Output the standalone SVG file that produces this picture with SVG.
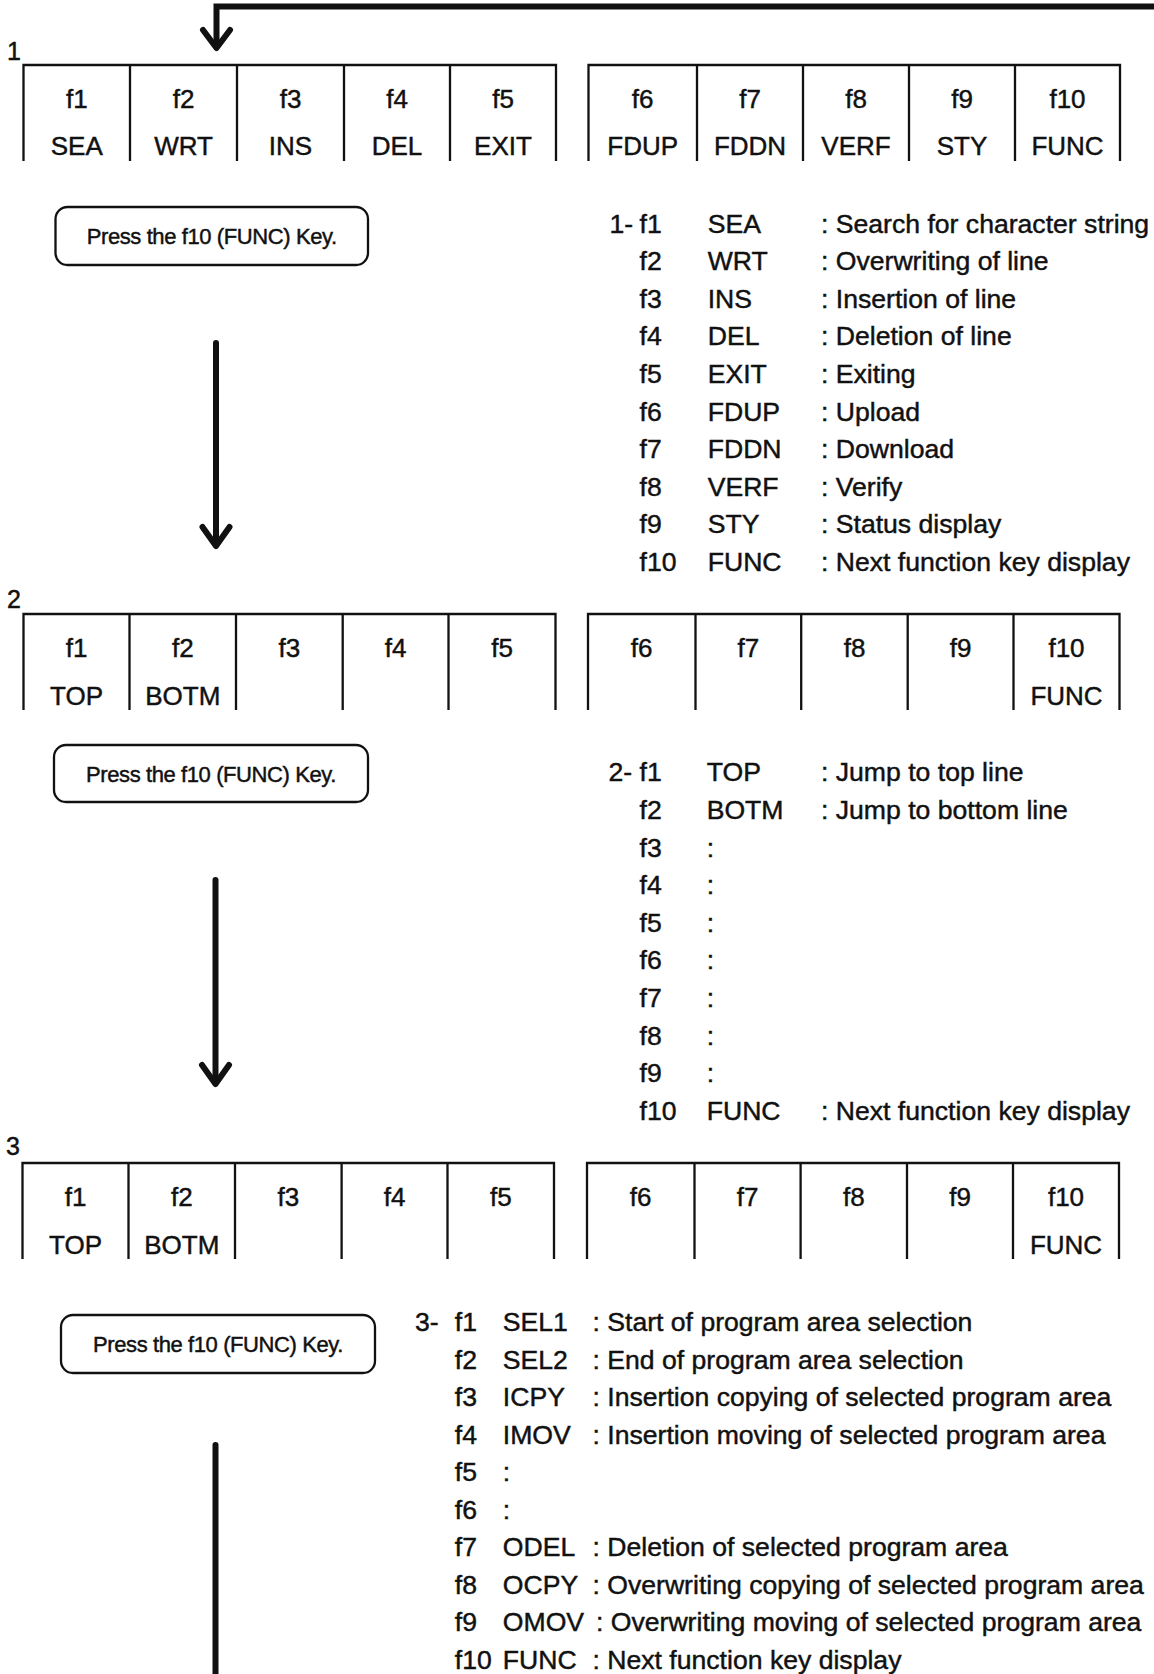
<svg xmlns="http://www.w3.org/2000/svg" width="1154" height="1674" viewBox="0 0 1154 1674">
<style>
text{font-family:"Liberation Sans",Arial,sans-serif;fill:#111;stroke:#111;stroke-width:0.45}
.k{font-size:26px;text-anchor:middle}
.n{font-size:25px}
.l{font-size:26.6px}
.p{font-size:22px;text-anchor:middle;letter-spacing:-0.4px}
.box{fill:none;stroke:#111;stroke-width:2.3}
.pb{fill:none;stroke:#111;stroke-width:2.3}
.ar{fill:none;stroke:#111;stroke-width:6;stroke-linecap:round;stroke-linejoin:round}
</style>
<rect width="1154" height="1674" fill="#fff"/>

<g id="connectors">
<path class="ar" d="M1160 6.5 H216.5 V47" style="stroke-linecap:butt;stroke-linejoin:miter"/>
<path class="ar" d="M203 30 L216.5 48 L230 30"/>
<path class="ar" d="M216 343 V545"/>
<path class="ar" d="M202.5 527 L216 546 L229.5 527"/>
<path class="ar" d="M215.5 880 V1083"/>
<path class="ar" d="M202 1065 L215.5 1084 L229 1065"/>
<path class="ar" d="M215.5 1445 V1680"/>
</g>

<!-- Row 1 -->
<g id="row1-label"><text class="n" x="7" y="60">1</text></g>
<g id="row1-left">
<path class="box" d="M23.5 161 V65 H556 V161 M130 65 V161 M237 65 V161 M344 65 V161 M450 65 V161"/>
<text class="k" x="76.8" y="108">f1</text><text class="k" x="76.8" y="155">SEA</text>
<text class="k" x="183.5" y="108">f2</text><text class="k" x="183.5" y="155">WRT</text>
<text class="k" x="290.5" y="108">f3</text><text class="k" x="290.5" y="155">INS</text>
<text class="k" x="397" y="108">f4</text><text class="k" x="397" y="155">DEL</text>
<text class="k" x="503" y="108">f5</text><text class="k" x="503" y="155">EXIT</text>
</g>
<g id="row1-right">
<path class="box" d="M588.5 161 V65 H1120 V161 M697 65 V161 M803 65 V161 M909 65 V161 M1015 65 V161"/>
<text class="k" x="642.7" y="108">f6</text><text class="k" x="642.7" y="155">FDUP</text>
<text class="k" x="750" y="108">f7</text><text class="k" x="750" y="155">FDDN</text>
<text class="k" x="856" y="108">f8</text><text class="k" x="856" y="155">VERF</text>
<text class="k" x="962" y="108">f9</text><text class="k" x="962" y="155">STY</text>
<text class="k" x="1067.5" y="108">f10</text><text class="k" x="1067.5" y="155">FUNC</text>
</g>
<g id="press1">
<rect class="pb" x="55.5" y="207" width="312.5" height="58" rx="12"/>
<text class="p" x="211.7" y="244">Press the f10 (FUNC) Key.</text>
</g>
<g id="list1">
<text class="l" x="609.5" y="232.5">1-</text>
<text class="l" x="639.5" y="232.5">f1</text><text class="l" x="707.7" y="232.5">SEA</text><text class="l" x="821" y="232.5">: Search for character string</text>
<text class="l" x="639.5" y="270.1">f2</text><text class="l" x="707.7" y="270.1">WRT</text><text class="l" x="821" y="270.1">: Overwriting of line</text>
<text class="l" x="639.5" y="307.7">f3</text><text class="l" x="707.7" y="307.7">INS</text><text class="l" x="821" y="307.7">: Insertion of line</text>
<text class="l" x="639.5" y="345.3">f4</text><text class="l" x="707.7" y="345.3">DEL</text><text class="l" x="821" y="345.3">: Deletion of line</text>
<text class="l" x="639.5" y="382.9">f5</text><text class="l" x="707.7" y="382.9">EXIT</text><text class="l" x="821" y="382.9">: Exiting</text>
<text class="l" x="639.5" y="420.5">f6</text><text class="l" x="707.7" y="420.5">FDUP</text><text class="l" x="821" y="420.5">: Upload</text>
<text class="l" x="639.5" y="458.1">f7</text><text class="l" x="707.7" y="458.1">FDDN</text><text class="l" x="821" y="458.1">: Download</text>
<text class="l" x="639.5" y="495.7">f8</text><text class="l" x="707.7" y="495.7">VERF</text><text class="l" x="821" y="495.7">: Verify</text>
<text class="l" x="639.5" y="533.3">f9</text><text class="l" x="707.7" y="533.3">STY</text><text class="l" x="821" y="533.3">: Status display</text>
<text class="l" x="639.5" y="570.9">f10</text><text class="l" x="707.7" y="570.9">FUNC</text><text class="l" x="821" y="570.9">: Next function key display</text>
</g>

<!-- Row 2 -->
<g id="row2-label"><text class="n" x="7" y="608">2</text></g>
<g id="row2-left">
<path class="box" d="M23.5 710 V614 H555.5 V710 M129.5 614 V710 M236 614 V710 M342.7 614 V710 M448.5 614 V710"/>
<text class="k" x="76.5" y="657">f1</text><text class="k" x="76.5" y="705">TOP</text>
<text class="k" x="182.8" y="657">f2</text><text class="k" x="182.8" y="705">BOTM</text>
<text class="k" x="289.3" y="657">f3</text>
<text class="k" x="395.6" y="657">f4</text>
<text class="k" x="502" y="657">f5</text>
</g>
<g id="row2-right">
<path class="box" d="M588 710 V614 H1119.5 V710 M695.5 614 V710 M801.2 614 V710 M907.7 614 V710 M1013.5 614 V710"/>
<text class="k" x="641.7" y="657">f6</text>
<text class="k" x="748.3" y="657">f7</text>
<text class="k" x="854.5" y="657">f8</text>
<text class="k" x="960.6" y="657">f9</text>
<text class="k" x="1066.5" y="657">f10</text><text class="k" x="1066.5" y="705">FUNC</text>
</g>
<g id="press2">
<rect class="pb" x="54" y="745" width="314" height="57" rx="12"/>
<text class="p" x="211" y="781.5">Press the f10 (FUNC) Key.</text>
</g>
<g id="list2">
<text class="l" x="608.5" y="781.3">2-</text>
<text class="l" x="639.5" y="781.3">f1</text><text class="l" x="706.7" y="781.3">TOP</text><text class="l" x="821" y="781.3">: Jump to top line</text>
<text class="l" x="639.5" y="818.9">f2</text><text class="l" x="706.7" y="818.9">BOTM</text><text class="l" x="821" y="818.9">: Jump to bottom line</text>
<text class="l" x="639.5" y="856.5">f3</text><text class="l" x="706.7" y="856.5">:</text>
<text class="l" x="639.5" y="894.1">f4</text><text class="l" x="706.7" y="894.1">:</text>
<text class="l" x="639.5" y="931.7">f5</text><text class="l" x="706.7" y="931.7">:</text>
<text class="l" x="639.5" y="969.3">f6</text><text class="l" x="706.7" y="969.3">:</text>
<text class="l" x="639.5" y="1006.9">f7</text><text class="l" x="706.7" y="1006.9">:</text>
<text class="l" x="639.5" y="1044.5">f8</text><text class="l" x="706.7" y="1044.5">:</text>
<text class="l" x="639.5" y="1082.1">f9</text><text class="l" x="706.7" y="1082.1">:</text>
<text class="l" x="639.5" y="1119.7">f10</text><text class="l" x="706.7" y="1119.7">FUNC</text><text class="l" x="821" y="1119.7">: Next function key display</text>
</g>

<!-- Row 3 -->
<g id="row3-label"><text class="n" x="6" y="1155">3</text></g>
<g id="row3-left">
<path class="box" d="M22.5 1259 V1163 H554 V1259 M128.5 1163 V1259 M235 1163 V1259 M341.6 1163 V1259 M447.5 1163 V1259"/>
<text class="k" x="75.5" y="1206">f1</text><text class="k" x="75.5" y="1254">TOP</text>
<text class="k" x="181.8" y="1206">f2</text><text class="k" x="181.8" y="1254">BOTM</text>
<text class="k" x="288.3" y="1206">f3</text>
<text class="k" x="394.5" y="1206">f4</text>
<text class="k" x="500.8" y="1206">f5</text>
</g>
<g id="row3-right">
<path class="box" d="M587 1259 V1163 H1119 V1259 M694.5 1163 V1259 M800.6 1163 V1259 M907 1163 V1259 M1013 1163 V1259"/>
<text class="k" x="640.7" y="1206">f6</text>
<text class="k" x="747.5" y="1206">f7</text>
<text class="k" x="853.8" y="1206">f8</text>
<text class="k" x="960" y="1206">f9</text>
<text class="k" x="1066" y="1206">f10</text><text class="k" x="1066" y="1254">FUNC</text>
</g>
<g id="press3">
<rect class="pb" x="61" y="1315" width="314" height="58" rx="12"/>
<text class="p" x="218" y="1352">Press the f10 (FUNC) Key.</text>
</g>
<g id="list3">
<text class="l" x="415" y="1331">3-</text>
<text class="l" x="454.8" y="1331">f1</text><text class="l" x="502.8" y="1331">SEL1</text><text class="l" x="592.5" y="1331">: Start of program area selection</text>
<text class="l" x="454.8" y="1368.5">f2</text><text class="l" x="502.8" y="1368.5">SEL2</text><text class="l" x="592.5" y="1368.5">: End of program area selection</text>
<text class="l" x="454.8" y="1406">f3</text><text class="l" x="502.8" y="1406">ICPY</text><text class="l" x="592.5" y="1406">: Insertion copying of selected program area</text>
<text class="l" x="454.8" y="1443.5">f4</text><text class="l" x="502.8" y="1443.5">IMOV</text><text class="l" x="592.5" y="1443.5">: Insertion moving of selected program area</text>
<text class="l" x="454.8" y="1481">f5</text><text class="l" x="502.8" y="1481">:</text>
<text class="l" x="454.8" y="1518.5">f6</text><text class="l" x="502.8" y="1518.5">:</text>
<text class="l" x="454.8" y="1556">f7</text><text class="l" x="502.8" y="1556">ODEL</text><text class="l" x="592.5" y="1556">: Deletion of selected program area</text>
<text class="l" x="454.8" y="1593.5">f8</text><text class="l" x="502.8" y="1593.5">OCPY</text><text class="l" x="592.5" y="1593.5">: Overwriting copying of selected program area</text>
<text class="l" x="454.8" y="1631">f9</text><text class="l" x="502.8" y="1631">OMOV</text><text class="l" x="596" y="1631">: Overwriting moving of selected program area</text>
<text class="l" x="454.8" y="1668.5">f10</text><text class="l" x="502.8" y="1668.5">FUNC</text><text class="l" x="592.5" y="1668.5">: Next function key display</text>
</g>
</svg>
